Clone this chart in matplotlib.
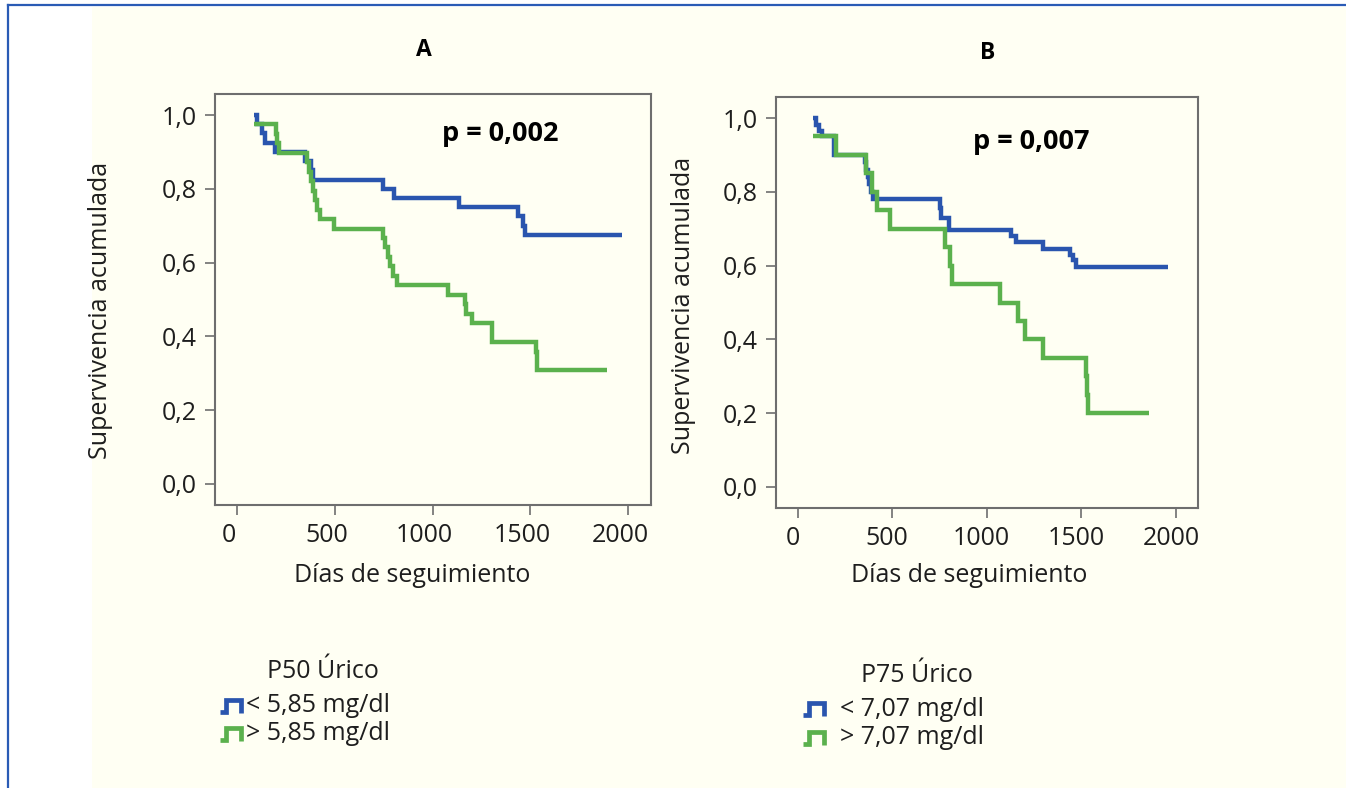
import matplotlib
matplotlib.use('Agg')
import matplotlib.pyplot as plt
from matplotlib.lines import Line2D
from matplotlib.patches import Rectangle
import matplotlib.transforms as mtransforms

plt.rcParams['font.family'] = ['Open Sans', 'DejaVu Sans']

# ---------------- data ----------------
x_ticks = [0, 500, 1000, 1500, 2000]
y_ticks = [0.0, 0.2, 0.4, 0.6, 0.8, 1.0]
y_tick_labels = ['0,0', '0,2', '0,4', '0,6', '0,8', '1,0']

# Panel A (P50 Úrico)
a_low_t = [85, 101, 126, 143, 194, 348, 377, 390, 748, 800, 1132, 1439, 1460, 1473, 1968]
a_low_s = [1.0, 0.975, 0.95, 0.925, 0.9, 0.875, 0.85, 0.825, 0.8, 0.775, 0.75, 0.725, 0.7, 0.675, 0.675]
a_high_t = [85, 196, 203, 212, 356, 366, 376, 386, 396, 410, 425, 493, 748, 756, 770, 782, 795, 817,
            1076, 1166, 1172, 1200, 1303, 1529, 1536, 1891]
a_high_k = [38, 37, 36, 35, 34, 33, 32, 31, 30, 29, 28, 27, 26, 25, 24, 23, 22, 21,
            20, 19, 18, 17, 15, 14, 12, 12]
a_high_n = 39

# Panel B (P75 Úrico)
b_low_t = [81, 99, 115, 130, 195, 354, 362, 370, 378, 386, 398, 751, 760, 801, 1131, 1157, 1298,
           1439, 1457, 1471, 1959]
b_low_s = [1.0, 0.982, 0.966, 0.95, 0.9, 0.88, 0.86, 0.84, 0.82, 0.80, 0.78, 0.755, 0.73, 0.696,
           0.68, 0.663, 0.645, 0.63, 0.614, 0.595, 0.595]
b_high_t = [81, 203, 363, 395, 420, 490, 780, 804, 818, 1072, 1165, 1200, 1297, 1527, 1531, 1535, 1859]
b_high_s = [0.95, 0.9, 0.85, 0.8, 0.75, 0.7, 0.65, 0.6, 0.55, 0.5, 0.45, 0.4, 0.35, 0.3, 0.25, 0.2, 0.2]

a_high_s = [k / a_high_n for k in a_high_k]

titles = ['A', 'B']
p_texts = ['p = 0,002', 'p = 0,007']
p_pos = [(1345, 0.948), (1238, 0.935)]
legend_titles = ['P50 Úrico', 'P75 Úrico']
legend_low = ['< 5,85 mg/dl', '< 7,07 mg/dl']
legend_high = ['> 5,85 mg/dl', '> 7,07 mg/dl']
xlabel = 'Días de seguimiento'
ylabel = 'Supervivencia acumulada'

# ---------------- style ----------------
W, H = 1346, 788
BLUE = '#2A55AE'
GREEN = '#5BB14D'
CREAM = '#FFFFF3'
BORDER = '#2A5BB5'
SPINE = '#6E6E6E'
TXT = '#1E1E1E'
FS = 18

fig = plt.figure(figsize=(W / 100, H / 100), dpi=100)
fig.patch.set_facecolor('white')

def fx(px):
    return px / W

def fy(py):
    return 1 - py / H

fig.add_artist(Rectangle((fx(92), 0), 1 - fx(92), fy(7), transform=fig.transFigure,
                         facecolor=CREAM, edgecolor='none', zorder=-10))
fig.add_artist(Line2D([fx(8), fx(8)], [0, fy(5)], color=BORDER, lw=1.6, transform=fig.transFigure))
fig.add_artist(Line2D([fx(8), 1], [fy(5), fy(5)], color=BORDER, lw=1.6, transform=fig.transFigure))

panels = [
    dict(rect=(215, 94, 651, 505), curves=[(a_low_t, a_low_s, BLUE), (a_high_t, a_high_s, GREEN)],
         title_xy=(424, 50), xl=(412, 576), yl=(101, 310), xoff=-8),
    dict(rect=(776, 97, 1198, 508), curves=[(b_low_t, b_low_s, BLUE), (b_high_t, b_high_s, GREEN)],
         title_xy=(988, 53), xl=(969, 576), yl=(684, 305), xoff=-5),
]

for i, p in enumerate(panels):
    l, t, r, b = p['rect']
    ax = fig.add_axes([fx(l), fy(b), fx(r) - fx(l), (b - t) / H])
    ax.set_facecolor(CREAM)
    for tt, ss, col in p['curves']:
        ax.plot(tt, ss, drawstyle='steps-post', color=col, lw=3.2, solid_joinstyle='miter',
                solid_capstyle='butt')
    ax.set_xlim(-114, 2117)
    ax.set_ylim(-0.057, 1.057)
    ax.set_xticks(x_ticks)
    ax.set_xticklabels([str(v) for v in x_ticks])
    ax.set_yticks(y_ticks)
    ax.set_yticklabels(y_tick_labels)
    ax.tick_params(direction='out', length=7, width=1.2, color=SPINE, labelsize=FS,
                   labelcolor=TXT, pad=6)
    for s in ax.spines.values():
        s.set_color(SPINE)
        s.set_linewidth(1.5)
    off = mtransforms.ScaledTranslation(p['xoff'] / 100, 0, fig.dpi_scale_trans)
    for lab in ax.get_xticklabels():
        lab.set_transform(lab.get_transform() + off)

    ax.set_xlabel(xlabel, fontsize=FS, color=TXT)
    ax.xaxis.label.set_va('center')
    ax.xaxis.set_label_coords((p['xl'][0] - l) / (r - l), (b - p['xl'][1]) / (b - t))
    ax.set_ylabel(ylabel, fontsize=FS, color=TXT)
    ax.yaxis.label.set_va('center')
    ax.yaxis.set_label_coords((p['yl'][0] - l) / (r - l), (b - p['yl'][1]) / (b - t))

    ax.text(p_pos[i][0], p_pos[i][1], p_texts[i], fontsize=19.5, fontweight='bold', color='black',
            ha='center', va='center')
    fig.text(fx(p['title_xy'][0]), fy(p['title_xy'][1]), titles[i], fontsize=16.5, fontweight='bold',
             ha='center', va='center', color='black')

# ---------------- legends ----------------
legends = [
    dict(title_xy=(323, 671), icon_x=220, text_x=246, rows=(706, 734)),
    dict(title_xy=(917, 675), icon_x=803, text_x=840, rows=(709, 738)),
]

def step_icon(x0, yc, color):
    xs = [x0, x0 + 6, x0 + 6, x0 + 21, x0 + 21]
    ys = [yc + 6, yc + 6, yc - 6, yc - 6, yc + 7]
    fig.add_artist(Line2D([fx(v) for v in xs], [fy(v) for v in ys], color=color, lw=3.4,
                          transform=fig.transFigure, solid_joinstyle='miter', solid_capstyle='butt'))

for i, lg in enumerate(legends):
    fig.text(fx(lg['title_xy'][0]), fy(lg['title_xy'][1]), legend_titles[i], fontsize=FS,
             ha='center', va='center', color=TXT)
    for txt, yc, col in [(legend_low[i], lg['rows'][0], BLUE), (legend_high[i], lg['rows'][1], GREEN)]:
        step_icon(lg['icon_x'], yc, col)
        fig.text(fx(lg['text_x']), fy(yc), txt, fontsize=FS, ha='left', va='center', color=TXT)

fig.savefig('out.png', dpi=100, facecolor=fig.get_facecolor())
